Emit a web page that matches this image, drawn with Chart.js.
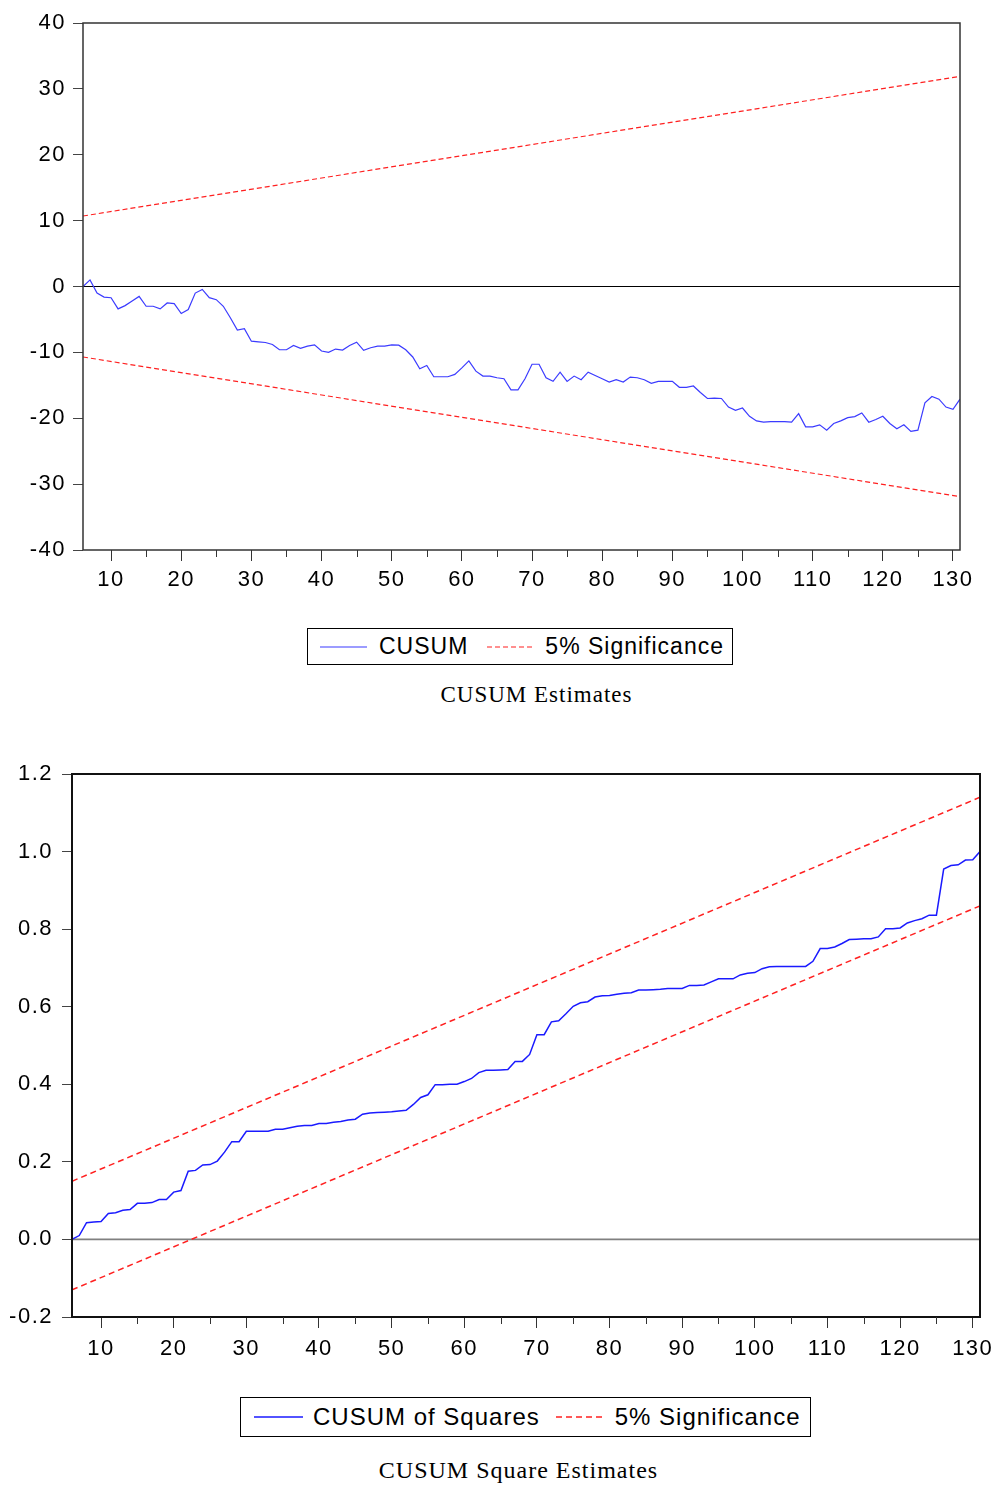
<!DOCTYPE html>
<html>
<head>
<meta charset="utf-8">
<script src="https://cdn.jsdelivr.net/npm/chart.js@4.4.0/dist/chart.umd.min.js"></script>
<style>
  body { margin: 0; background: #fff; width: 1005px; height: 1485px; position: relative; overflow: hidden; }
  canvas { position: absolute; left: 0; }
  #cusumChart { top: 0; }
  #squaresChart { top: 740px; }
  .legend { position: absolute; border: 1px solid #000; box-sizing: border-box; display: flex; align-items: center;
            font-family: "Liberation Sans", Arial, sans-serif; letter-spacing: 1px; color: #000; white-space: nowrap; }
  .legend svg { display: block; flex: none; }
  .caption { position: absolute; left: 0; width: 1005px; text-align: center; white-space: nowrap;
             font-family: "Liberation Serif", "Times New Roman", serif; letter-spacing: 1px; color: #000; }
</style>
</head>
<body>
<canvas id="cusumChart" width="1005" height="600"></canvas>
<div class="legend" style="left:307px;top:628px;width:426px;height:37px;font-size:23px;">
  <svg width="59" height="10" style="margin-left:12px"><line x1="0" y1="5" x2="47" y2="5" stroke="#3b3bff" stroke-width="1.2"/></svg>
  <span>CUSUM</span>
  <svg width="58" height="10" style="margin-left:19px"><line x1="0" y1="5" x2="46" y2="5" stroke="#ff2020" stroke-width="1.2" stroke-dasharray="5 3"/></svg>
  <span>5% Significance</span>
</div>
<div class="caption" style="left:34px;top:682px;font-size:23px;">CUSUM Estimates</div>

<canvas id="squaresChart" width="1005" height="640"></canvas>
<div class="legend" style="left:240px;top:1397px;width:571px;height:40px;font-size:24px;">
  <svg width="59" height="10" style="margin-left:13px"><line x1="0" y1="5" x2="49" y2="5" stroke="#1a1aff" stroke-width="1.5"/></svg>
  <span>CUSUM of Squares</span>
  <svg width="59" height="10" style="margin-left:16px"><line x1="0" y1="5" x2="48" y2="5" stroke="#ff2020" stroke-width="1.5" stroke-dasharray="6 4"/></svg>
  <span>5% Significance</span>
</div>
<div class="caption" style="left:16px;top:1457px;font-size:24px;">CUSUM Square Estimates</div>

<script>
// observation index 6..131
const periods = [];
for (let t = 6; t <= 131; t++) periods.push(t);

const cusum = [
  0, 1.0, -1.0, -1.6, -1.7, -3.4, -2.9, -2.2, -1.5, -3.0,
  -3.0, -3.4, -2.5, -2.6, -4.1, -3.5, -1.0, -0.45, -1.7, -2.0,
  -3.0, -4.75, -6.6, -6.4, -8.3, -8.4, -8.5, -8.8, -9.6, -9.6,
  -8.95, -9.4, -9.05, -8.85, -9.8, -10.0, -9.5, -9.65, -8.95, -8.45,
  -9.7, -9.3, -9.05, -9.05, -8.85, -8.9, -9.6, -10.7, -12.5, -12.0,
  -13.7, -13.7, -13.7, -13.35, -12.35, -11.3, -12.85, -13.6, -13.6, -13.85,
  -14.0, -15.7, -15.7, -14.0, -11.8, -11.8, -13.85, -14.4, -13.0, -14.4,
  -13.6, -14.15, -13.0, -13.5, -14.0, -14.5, -14.15, -14.5, -13.75, -13.85,
  -14.15, -14.7, -14.4, -14.4, -14.4, -15.3, -15.3, -15.1, -16.1, -17.0,
  -16.95, -17.0, -18.3, -18.8, -18.45, -19.7, -20.4, -20.6, -20.5, -20.5,
  -20.5, -20.6, -19.3, -21.3, -21.3, -21.0, -21.8, -20.8, -20.4, -19.9,
  -19.75, -19.2, -20.6, -20.2, -19.7, -20.8, -21.6, -21.0, -22.0, -21.8,
  -17.65, -16.7, -17.1, -18.3, -18.65, -17.1
];

const cusumSq = [
  0, 0.010, 0.043, 0.045, 0.046, 0.067, 0.069, 0.075, 0.077, 0.093,
  0.093, 0.095, 0.103, 0.103, 0.122, 0.126, 0.176, 0.178, 0.192, 0.193,
  0.202, 0.225, 0.252, 0.252, 0.279, 0.279, 0.279, 0.279, 0.284, 0.284,
  0.288, 0.292, 0.294, 0.294, 0.299, 0.299, 0.302, 0.304, 0.308, 0.310,
  0.323, 0.326, 0.327, 0.328, 0.329, 0.331, 0.333, 0.348, 0.366, 0.373,
  0.399, 0.399, 0.400, 0.400, 0.407, 0.415, 0.430, 0.436, 0.436, 0.437,
  0.438, 0.459, 0.459, 0.477, 0.528, 0.528, 0.561, 0.564, 0.582, 0.601,
  0.610, 0.613, 0.625, 0.628, 0.629, 0.632, 0.635, 0.636, 0.643, 0.643,
  0.644, 0.645, 0.647, 0.647, 0.647, 0.655, 0.655, 0.656, 0.664, 0.672,
  0.672, 0.672, 0.682, 0.686, 0.688, 0.698, 0.703, 0.704, 0.704, 0.704,
  0.704, 0.704, 0.717, 0.750, 0.750, 0.754, 0.763, 0.773, 0.774, 0.775,
  0.775, 0.780, 0.801, 0.801, 0.803, 0.816, 0.822, 0.827, 0.836, 0.836,
  0.955, 0.964, 0.966, 0.978, 0.979, 1.000
];

// 5% bands, straight lines read at the first and last period
const bandX = [6, 131];
const cusumUpper = [10.7, 31.9];
const cusumLower = [-10.7, -31.9];
const sqUpper = [0.15, 1.14];
const sqLower = [-0.13, 0.86];

const xTicks = [10, 20, 30, 40, 50, 60, 70, 80, 90, 100, 110, 120, 130];
const xMinorTicks = [15, 25, 35, 45, 55, 65, 75, 85, 95, 105, 115, 125];
const cusumYTicks = [-40, -30, -20, -10, 0, 10, 20, 30, 40];
const sqYTicks = [-0.2, 0.0, 0.2, 0.4, 0.6, 0.8, 1.0, 1.2];

const toXY = (xs, ys) => xs.map((x, i) => ({ x: x, y: ys[i] }));

const tickFont = { family: '"Liberation Sans", Arial, sans-serif', size: 22 };

// wider glyph spacing like the original export
const spacingPlugin = {
  id: 'spacing',
  beforeUpdate(chart) { chart.ctx.letterSpacing = '1.5px'; },
  beforeDraw(chart) { chart.ctx.letterSpacing = '1.5px'; }
};

const framePlugin = {
  id: 'frame',
  afterDraw(chart, args, opts) {
    const { ctx, chartArea: a } = chart;
    const xs = chart.scales.x;
    ctx.save();
    ctx.strokeStyle = opts.color;
    ctx.lineWidth = opts.width;
    ctx.strokeRect(a.left, a.top, a.right - a.left, a.bottom - a.top);
    ctx.strokeStyle = '#333';
    ctx.lineWidth = 1;
    xMinorTicks.forEach(v => {
      const px = Math.round(xs.getPixelForValue(v)) + 0.5;
      ctx.beginPath();
      ctx.moveTo(px, a.bottom);
      ctx.lineTo(px, a.bottom + 7);
      ctx.stroke();
    });
    ctx.restore();
  }
};

function makeChart(id, cfg) {
  return new Chart(document.getElementById(id), {
    type: 'line',
    data: {
      datasets: [
        { label: cfg.seriesLabel, data: toXY(periods, cfg.series), borderColor: cfg.seriesColor,
          borderWidth: cfg.seriesWidth },
        { label: '5% Significance', data: toXY(bandX, cfg.upper), borderColor: '#ff2020',
          borderWidth: cfg.bandWidth, borderDash: cfg.dash },
        { label: 'lower', data: toXY(bandX, cfg.lower), borderColor: '#ff2020',
          borderWidth: cfg.bandWidth, borderDash: cfg.dash },
        { label: 'zero', data: toXY(bandX, [0, 0]), borderColor: cfg.zeroColor,
          borderWidth: cfg.zeroWidth }
      ]
    },
    options: {
      responsive: false,
      animation: false,
      devicePixelRatio: 1,
      layout: { padding: cfg.padding },
      elements: { point: { radius: 0 }, line: { tension: 0, fill: false } },
      plugins: {
        legend: { display: false },
        tooltip: { enabled: false },
        frame: { color: cfg.frameColor, width: cfg.frameWidth }
      },
      scales: {
        x: {
          type: 'linear',
          min: 6,
          max: 131,
          afterBuildTicks: s => { s.ticks = xTicks.map(v => ({ value: v })); },
          afterFit: s => { s.height = cfg.xHeight; },
          ticks: { font: tickFont, color: '#000', padding: cfg.xPad, maxRotation: 0, autoSkip: false },
          grid: { drawOnChartArea: false, tickLength: 11, color: '#333' },
          border: { display: false }
        },
        y: {
          min: cfg.yMin,
          max: cfg.yMax,
          afterBuildTicks: s => { s.ticks = cfg.yTicks.map(v => ({ value: v })); },
          afterFit: s => { s.width = cfg.yWidth; },
          ticks: { font: tickFont, color: '#000', padding: cfg.yPad, callback: cfg.fmt },
          grid: { drawOnChartArea: false, tickLength: 10, color: '#444' },
          border: { display: false }
        }
      }
    },
    plugins: [spacingPlugin, framePlugin]
  });
}

makeChart('cusumChart', {
  seriesLabel: 'CUSUM', series: cusum, seriesColor: '#3b3bff', seriesWidth: 1.2,
  upper: cusumUpper, lower: cusumLower, bandWidth: 1.2, dash: [5, 3],
  zeroColor: '#000', zeroWidth: 1.2,
  frameColor: '#333', frameWidth: 1.5,
  padding: { top: 23, right: 45, left: 0, bottom: 0 },
  xHeight: 50, xPad: 6, yWidth: 83, yPad: 7,
  yMin: -40, yMax: 40, yTicks: cusumYTicks, fmt: v => String(v)
});

makeChart('squaresChart', {
  seriesLabel: 'CUSUM of Squares', series: cusumSq, seriesColor: '#1a1aff', seriesWidth: 1.5,
  upper: sqUpper, lower: sqLower, bandWidth: 1.5, dash: [6, 4],
  zeroColor: '#808080', zeroWidth: 1.8,
  frameColor: '#111', frameWidth: 2,
  padding: { top: 34, right: 25, left: 0, bottom: 0 },
  xHeight: 63, xPad: 8, yWidth: 72, yPad: 9,
  yMin: -0.2, yMax: 1.2, yTicks: sqYTicks, fmt: v => v.toFixed(1)
});
</script>
</body>
</html>
